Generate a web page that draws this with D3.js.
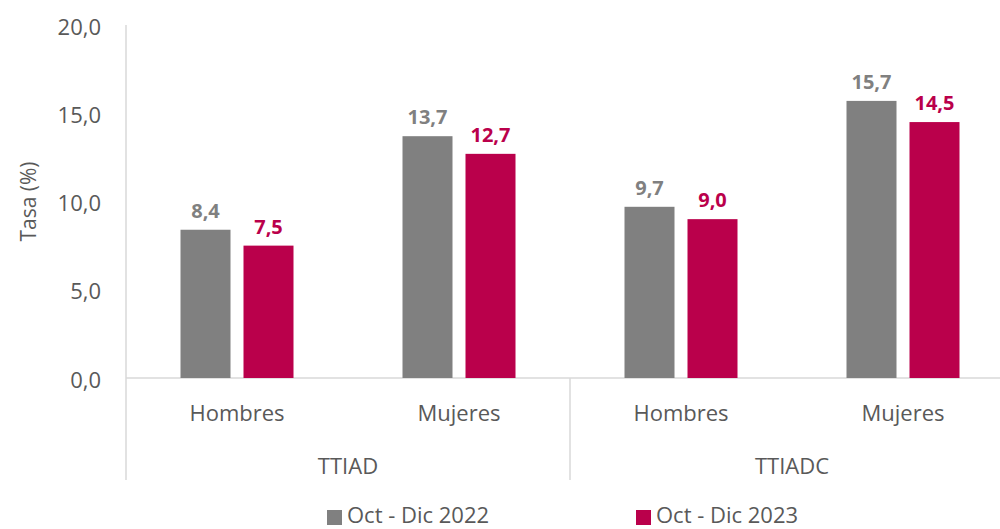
<!DOCTYPE html>
<html>
<head>
<meta charset="utf-8">
<script src="https://cdn.jsdelivr.net/npm/d3@7"></script>
<style>
  body { margin: 0; background: #fff; }
  svg { font-family: "Open Sans", "Noto Sans", sans-serif; }
</style>
</head>
<body>
<svg id="chart" width="1000" height="529"></svg>
<script>
// data
var groups = ["TTIAD", "TTIADC"];
var categories = ["Hombres", "Mujeres"];
var series = ["Oct - Dic 2022", "Oct - Dic 2023"];
var values2022 = [8.4, 13.7, 9.7, 15.7];
var values2023 = [7.5, 12.7, 9.0, 14.5];
var yTicks = [0, 5, 10, 15, 20];

var colors = ["#808080", "#ba004b"];
var textColor = "#595959";
var gridColor = "#d9d9d9";

var svg = d3.select("#chart");
var margin = { left: 126, right: 1014, top: 25, bottom: 378 };

// one slot per group/category pair
var slots = [];
groups.forEach(function(g) {
  categories.forEach(function(c) { slots.push(g + "|" + c); });
});

var x = d3.scaleBand()
  .domain(slots)
  .range([margin.left, margin.right]);
var y = d3.scaleLinear()
  .domain([0, 20])
  .range([margin.bottom, margin.top]);

var fmt = function(v) { return d3.format(".1f")(v).replace(".", ","); };

// y tick labels
svg.append("g").selectAll("text")
  .data(yTicks)
  .enter().append("text")
    .attr("x", 101)
    .attr("y", d => y(d) + 2)
    .attr("dy", "0.35em")
    .attr("text-anchor", "end")
    .attr("fill", textColor)
    .style("font-size", "22px")
    .text(fmt);

// axis title
svg.append("text")
  .attr("transform", "translate(29," + y(10) + ") rotate(-90)")
  .attr("text-anchor", "middle")
  .attr("dy", "0.35em")
  .attr("fill", textColor)
  .style("font-size", "21px")
  .text("Tasa (%)");

// axis lines
svg.append("line")
  .attr("x1", margin.left).attr("x2", margin.left)
  .attr("y1", 25).attr("y2", 480)
  .attr("stroke", gridColor).attr("stroke-width", 1.5);
svg.append("line")
  .attr("x1", margin.left).attr("x2", 1000)
  .attr("y1", y(0)).attr("y2", y(0))
  .attr("stroke", gridColor).attr("stroke-width", 1.5);
// group divider
groups.slice(1).forEach(function(g) {
  var xd = x(g + "|" + categories[0]);
  svg.append("line")
    .attr("x1", xd).attr("x2", xd)
    .attr("y1", y(0)).attr("y2", 480)
    .attr("stroke", gridColor).attr("stroke-width", 1.5);
});

// bars
var barW = 50, gap = 13;
var allSeries = [values2022, values2023];
allSeries.forEach(function(vals, s) {
  var g = svg.append("g");
  var off = s == 0 ? -(gap / 2 + barW) : gap / 2;
  g.selectAll("rect")
    .data(vals)
    .enter().append("rect")
      .attr("x", (d, i) => x(slots[i]) + x.bandwidth() / 2 + off)
      .attr("y", d => y(d))
      .attr("width", barW)
      .attr("height", d => y(0) - y(d))
      .attr("fill", colors[s]);
  g.selectAll("text")
    .data(vals)
    .enter().append("text")
      .attr("x", (d, i) => x(slots[i]) + x.bandwidth() / 2 + off + barW / 2)
      .attr("y", d => y(d) - 12)
      .attr("text-anchor", "middle")
      .attr("fill", colors[s])
      .style("font-size", "20px")
      .style("font-weight", "bold")
      .text(fmt);
});

// category labels
svg.append("g").selectAll("text")
  .data(slots)
  .enter().append("text")
    .attr("x", d => x(d) + x.bandwidth() / 2)
    .attr("y", 413)
    .attr("dy", "0.35em")
    .attr("text-anchor", "middle")
    .attr("fill", textColor)
    .style("font-size", "22px")
    .text(d => d.split("|")[1]);

// group labels
svg.append("g").selectAll("text")
  .data(groups)
  .enter().append("text")
    .attr("x", d => x(d + "|" + categories[0]) + x.bandwidth())
    .attr("y", 466)
    .attr("dy", "0.35em")
    .attr("text-anchor", "middle")
    .attr("fill", textColor)
    .style("font-size", "22px")
    .text(d => d);

// legend
var legendX = [327, 636];
var legend = svg.append("g").selectAll("g")
  .data(series)
  .enter().append("g")
    .attr("transform", (d, i) => "translate(" + legendX[i] + ",511)");
legend.append("rect")
  .attr("x", 0).attr("y", -1)
  .attr("width", 15).attr("height", 15)
  .attr("fill", (d, i) => colors[i]);
legend.append("text")
  .attr("x", 20)
  .attr("y", 5)
  .attr("dy", "0.3em")
  .attr("fill", textColor)
  .style("font-size", "22px")
  .text(d => d);
</script>
</body>
</html>
